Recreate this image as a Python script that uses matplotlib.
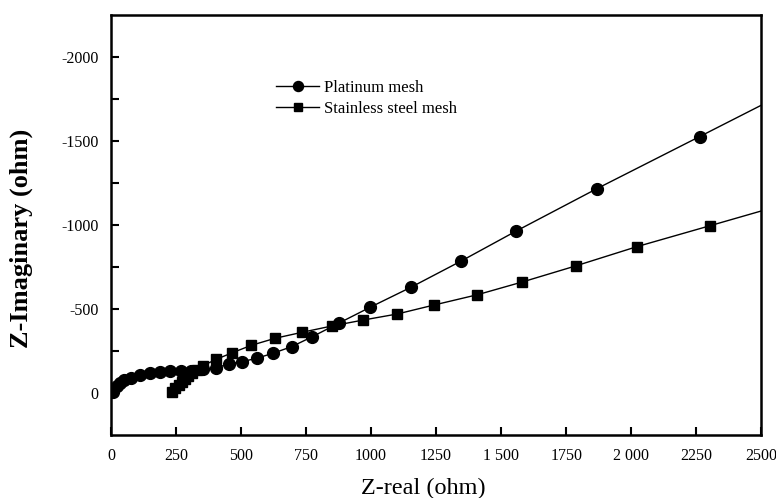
import matplotlib
matplotlib.use("Agg")
import matplotlib.pyplot as plt
from matplotlib.ticker import FixedLocator

plt.rcParams['font.family'] = ['Liberation Serif', 'DejaVu Serif']
plt.rcParams['axes.unicode_minus'] = False

# Platinum mesh (circles)
pt_real = [9, 22, 35, 50, 76, 112, 150, 188, 227, 268, 307, 355, 404, 452, 503, 561,
           622, 695, 774, 875, 996, 1153, 1347, 1558, 1868, 2263, 2700]
pt_imag = [-8, -42, -61, -77, -89, -105, -117, -125, -129, -131, -133, -140, -149, -173,
           -186, -207, -236, -276, -335, -415, -510, -629, -786, -964, -1216, -1526, -1870]

# Stainless steel mesh (squares)
ss_real = [234, 247, 260, 273, 285, 298, 312, 330, 353, 404, 467, 540, 632, 734, 850,
           969, 1100, 1243, 1409, 1582, 1786, 2022, 2304, 2650]
ss_imag = [-8, -27, -48, -65, -83, -101, -119, -137, -162, -200, -240, -284, -326, -361,
           -399, -434, -470, -524, -585, -661, -756, -871, -996, -1150]

xticks = [0, 250, 500, 750, 1000, 1250, 1500, 1750, 2000, 2250, 2500]
xticklabels = ['0', '250', '500', '750', '1000', '1250', '1 500', '1750', '2 000', '2250', '2500']
yticks = [0, -500, -1000, -1500, -2000]
yticklabels = ['0', '-500', '-1000', '-1500', '-2000']

fig = plt.figure(figsize=(7.76, 4.98), dpi=100)
ax = fig.add_axes([0.143, 0.1265, 0.838, 0.8435])

ax.plot(pt_real, pt_imag, '-', color='black', lw=1.0, marker='o', ms=8.5,
        mfc='black', mec='black', label='Platinum mesh')
ax.plot(ss_real, ss_imag, '-', color='black', lw=1.0, marker='s', ms=7,
        mfc='black', mec='black', label='Stainless steel mesh')

ax.set_xlim(0, 2500)
ax.set_ylim(250, -2250)

ax.set_xticks(xticks)
ax.set_xticklabels(xticklabels)
ax.set_yticks(yticks)
ax.set_yticklabels(yticklabels)
ax.yaxis.set_minor_locator(FixedLocator([-250, -750, -1250, -1750]))

ax.tick_params(axis='both', which='both', direction='in', labelsize=11.5,
               width=1.5, top=False, right=False)
ax.tick_params(axis='both', which='major', length=6, pad=9)
ax.tick_params(axis='y', which='minor', length=6)

for s in ax.spines.values():
    s.set_linewidth(1.8)

ax.set_xlabel('Z-real (ohm)', fontsize=17.5)
ax.xaxis.set_label_coords(0.48, -0.102)
ax.set_ylabel('Z-Imaginary (ohm)', fontsize=19, fontweight='bold')
ax.yaxis.set_label_coords(-0.12, 0.469)

leg = ax.legend(loc='upper left', bbox_to_anchor=(0.254, 0.845), frameon=False,
                fontsize=12, handlelength=2.6, handletextpad=0.3, labelspacing=0.3,
                borderaxespad=0, borderpad=0, markerscale=0.85)

fig.savefig('out.png', dpi=100)
